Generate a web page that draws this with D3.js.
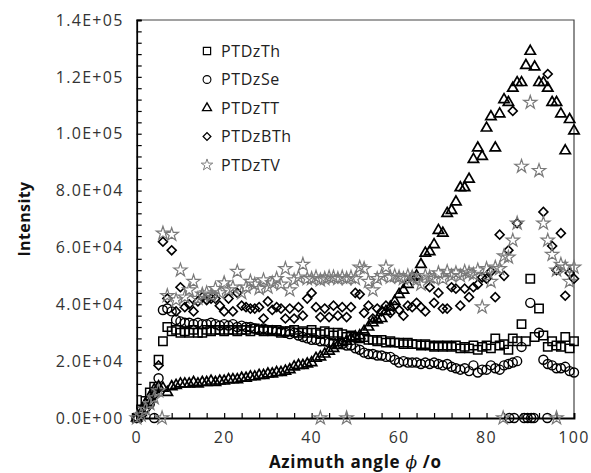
<!DOCTYPE html>
<html><head><meta charset="utf-8">
<script src="https://cdn.jsdelivr.net/npm/d3@7/dist/d3.min.js"></script>
<style>body{margin:0;background:#fff}svg{display:block}text{font-family:"Open Sans",sans-serif}</style>
</head><body><svg id="c" width="591" height="473"></svg>
<script>
// Intensity values in units of 1e4
const angles = [0,1,2,3,4,5,6,7,8,9,10,11,12,13,14,15,16,17,18,19,20,21,22,23,24,25,26,27,28,29,30,31,32,33,34,35,36,37,38,39,40,41,42,43,44,45,46,47,48,49,50,51,52,53,54,55,56,57,58,59,60,61,62,63,64,65,66,67,68,69,70,71,72,73,74,75,76,77,78,79,80,81,82,83,84,85,86,87,88,89,90,91,92,93,94,95,96,97,98,99,100];
const PTDzTh = [0,0.3,0.6,0.9,1.1,2.05,2.7,3.2,3.05,3.1,3.0,3.05,3.0,3.1,3.0,3.0,3.1,3.05,3.1,3.1,3.05,3.1,3.1,3.05,3.1,3.1,3.05,3.15,3.1,3.05,3.1,3.05,3.1,3.0,3.05,3.05,3.1,3.0,3.05,3.0,3.1,3.0,2.95,3.05,3.0,2.9,3.0,2.95,2.85,2.9,2.85,2.8,2.85,2.75,2.75,2.7,2.75,2.65,2.7,2.65,2.65,2.6,2.65,2.6,2.6,2.55,2.6,2.55,2.5,2.55,2.5,2.55,2.5,2.55,2.45,2.5,2.45,2.55,2.4,2.5,2.55,2.45,2.8,2.55,2.6,2.4,2.8,2.7,3.3,2.7,4.9,2.85,3.85,2.9,2.5,2.7,2.55,2.5,2.85,2.45,2.7];
const PTDzSe = [0,0.1,0.35,0.5,0,1.4,3.8,3.85,3.75,3.45,3.4,3.35,3.35,3.3,3.35,3.3,3.3,3.35,3.3,3.25,3.3,3.25,3.3,3.2,3.25,3.2,3.2,3.15,3.1,3.15,3.1,3.1,3.05,3.05,3.0,2.95,3.0,2.9,2.85,2.8,2.75,2.75,2.7,2.7,2.65,2.65,2.6,2.6,2.55,2.55,2.45,2.4,2.3,2.25,2.25,2.2,2.2,2.15,2.15,2.05,1.95,2.0,1.95,1.95,1.95,1.9,1.95,1.9,1.95,1.9,1.85,1.9,1.8,1.75,1.7,1.75,1.65,1.85,1.6,1.7,1.7,1.85,1.75,1.7,1.85,1.9,1.95,2.0,2.5,null,4.05,null,3.0,2.05,1.9,1.85,1.75,1.75,1.8,1.65,1.6];
const PTDzTT = [0,0.2,0.5,0.75,1.0,1.1,1.05,0.9,1.1,1.15,1.2,1.2,1.2,1.25,1.2,1.25,1.25,1.3,1.25,1.3,1.3,1.35,1.35,1.35,1.4,1.4,1.45,1.45,1.5,1.5,1.55,1.55,1.6,1.6,1.65,1.7,1.8,1.85,1.85,1.9,1.95,2.1,2.15,2.25,2.35,2.45,2.55,2.65,2.7,2.8,2.85,2.9,3.05,3.2,3.35,3.45,3.5,3.75,3.9,4.1,4.35,4.5,4.7,4.95,5.0,5.4,5.8,5.85,6.1,6.6,6.5,7.2,7.3,7.6,8.1,8.1,8.4,9.1,9.5,9.2,10.2,10.6,9.5,10.7,11.2,11.1,11.6,11.8,11.8,12.4,12.9,12.35,11.8,11.8,11.6,11.1,11.1,10.7,9.4,10.5,10.1];
const PTDzBTh = [0,0.1,0.3,0.55,0.8,1.85,6.2,4.2,5.9,3.75,4.6,3.9,4.0,3.75,4.1,4.25,4.15,4.2,4.2,3.95,3.75,4.2,3.75,4.4,3.95,3.9,3.85,3.85,3.9,3.5,4.1,3.8,3.9,3.85,3.5,3.85,3.5,3.9,3.6,4.2,4.4,3.9,3.55,3.85,3.55,3.95,3.6,3.9,3.55,3.9,4.4,4.35,3.7,3.95,3.5,3.85,3.75,3.95,3.7,3.95,3.8,3.6,3.95,3.9,4.05,3.9,3.75,4.6,4.05,4.4,3.85,3.85,4.6,4.55,3.95,4.55,4.25,4.6,4.7,4.95,4.9,5.15,4.25,6.45,5.0,5.9,10.8,6.85,null,null,null,null,null,7.25,12.1,6.05,5.2,6.5,4.3,5.1,4.9];
const PTDzTV = [0,0.1,0.3,0.5,0.7,0.95,6.5,4.3,6.45,4.15,5.2,4.25,4.5,4.8,4.2,4.35,4.4,4.3,4.55,4.4,4.75,4.5,4.6,5.15,4.4,4.6,4.8,4.7,4.55,4.85,4.6,4.75,4.9,4.7,5.25,4.5,4.85,4.95,5.4,4.9,4.9,4.95,4.85,4.9,4.95,4.95,4.9,4.95,4.9,4.95,4.9,5.3,5.25,4.8,4.5,4.9,5.0,5.3,4.95,5.0,4.95,4.9,5.0,4.95,4.85,4.7,5.0,4.95,4.9,5.1,4.9,5.15,5.0,5.1,5.0,5.15,5.1,5.05,5.2,3.9,5.25,4.8,5.3,5.25,5.7,5.65,6.25,6.85,8.85,null,11.1,null,8.7,6.85,6.25,5.75,5.2,5.4,5.3,4.8,5.3];
// additional readings that fall on the zero line
const seZeroAngles = [85.2,86.3,88.6,89.4,90.2,90.8,93.9];
const tvZeroAngles = [5.8,42,48,83.8,96];
const seriesNames = ["PTDzTh","PTDzSe","PTDzTT","PTDzBTh","PTDzTV"];
const yTickLabels = ["0.0E+00","2.0E+04","4.0E+04","6.0E+04","8.0E+04","1.0E+05","1.2E+05","1.4E+05"];
const xTickLabels = ["0","20","40","60","80","100"];

const svg = d3.select("#c");
const L=136.7, R=574, T=20, B=418;
const x = d3.scaleLinear().domain([0,100]).range([L,R]);
const y = d3.scaleLinear().domain([0,14]).range([B,T]);

// frame (top/right)
svg.append("path").attr("d",`M${L},${T}H${R}V${B}`).attr("fill","none").attr("stroke","#444").attr("stroke-width",1.2);

// axes
const yAxis = d3.axisLeft(y).tickValues(d3.range(0,14.01,0.4)).tickSize(-5).tickFormat("");
const gy = svg.append("g").attr("transform",`translate(${L},0)`).call(yAxis);
const xAxis = d3.axisBottom(x).tickValues(d3.range(0,100.1,4)).tickSize(-5).tickFormat("");
const gx = svg.append("g").attr("transform",`translate(0,${B})`).call(xAxis);
[gy,gx].forEach(g=>{g.select(".domain").attr("stroke","#000").attr("stroke-width",1.8);g.selectAll(".tick line").attr("stroke","#000").attr("stroke-width",1.2);});

// tick labels
svg.append("g").selectAll("text").data(yTickLabels).join("text")
  .attr("x",L-13).attr("y",(d,i)=>y(i*2)).attr("dy","0.36em").attr("text-anchor","end")
  .attr("font-size",16).attr("letter-spacing",1.3).attr("fill","#333").text(d=>d);
svg.append("g").selectAll("text").data(xTickLabels).join("text")
  .attr("x",(d)=>x(+d)).attr("y",443).attr("text-anchor","middle")
  .attr("font-size",16).attr("letter-spacing",1.3).attr("fill","#333").text(d=>d);

// axis titles
svg.append("text").attr("transform",`translate(30,${(T+B)/2}) rotate(-90)`).attr("text-anchor","middle")
  .attr("font-size",16).attr("letter-spacing",0.4).attr("font-weight","bold").attr("fill","#111").text("Intensity");
const xt = svg.append("text").attr("x",(L+R)/2).attr("y",468).attr("text-anchor","middle")
  .attr("font-size",17).attr("letter-spacing",0.7).attr("font-weight","bold").attr("fill","#111");
xt.append("tspan").text("Azimuth angle ");
xt.append("tspan").attr("font-style","italic").attr("font-weight","normal").attr("font-family","DejaVu Serif").text("ϕ");
xt.append("tspan").text(" /o");

// symbols
const shapes = [
  {type:d3.symbolSquare,size:70,rot:0,color:"#000",sw:1.5},
  {type:d3.symbolCircle,size:64,rot:0,color:"#000",sw:1.4},
  {type:d3.symbolTriangle,size:46,rot:0,color:"#000",sw:1.7},
  {type:d3.symbolSquare,size:40,rot:45,color:"#000",sw:1.6},
  {type:d3.symbolStar,size:55,rot:0,color:"#7a7a7a",sw:1.2}
];
const allValues = [PTDzTh,PTDzSe,PTDzTT,PTDzBTh,PTDzTV];
const extras = [[],seZeroAngles.map(a=>[a,0]),[],[],tvZeroAngles.map(a=>[a,0])];

allValues.forEach((vals,si)=>{
  const s = shapes[si];
  const pts = angles.map((a,i)=>[a,vals[i]]).filter(p=>p[1]!==null).concat(extras[si]);
  const path = d3.symbol().type(s.type).size(s.size)();
  svg.append("g").selectAll("path").data(pts).join("path")
    .attr("d",path)
    .attr("transform",p=>`translate(${x(p[0])},${y(p[1])}) rotate(${s.rot})`)
    .attr("fill","none").attr("stroke",s.color).attr("stroke-width",s.sw);
});

// legend
const lg = svg.append("g");
seriesNames.forEach((n,i)=>{
  const s = shapes[i];
  const cy = 51 + i*28.5;
  lg.append("path").attr("d",d3.symbol().type(s.type).size(s.size*0.75)())
    .attr("transform",`translate(207,${cy}) rotate(${s.rot})`)
    .attr("fill","none").attr("stroke",s.color).attr("stroke-width",s.sw*0.8);
  lg.append("text").attr("x",221).attr("y",cy).attr("dy","0.36em")
    .attr("font-size",16).attr("letter-spacing",0.6).attr("fill","#222").text(n);
});
</script></body></html>
